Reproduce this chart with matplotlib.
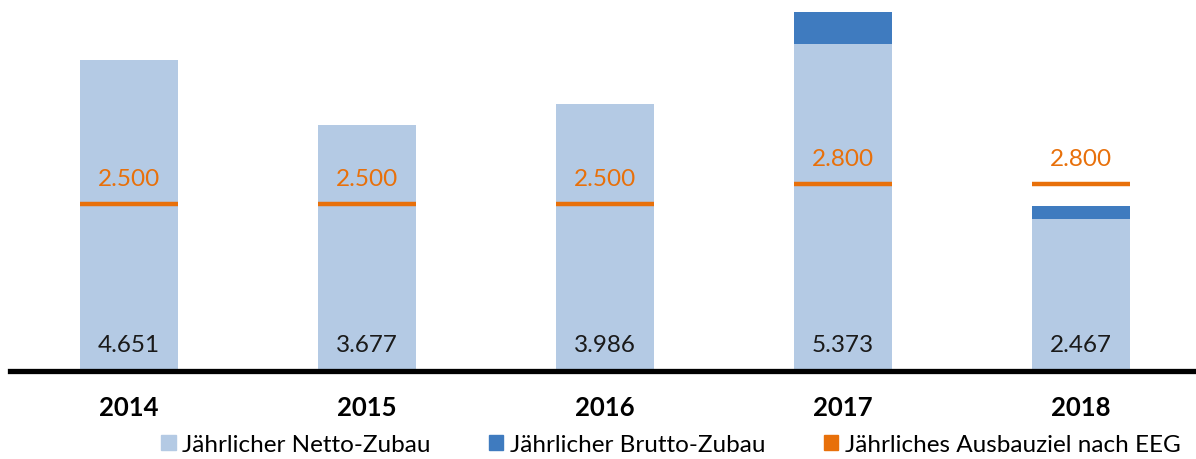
import matplotlib
matplotlib.use("Agg")
import matplotlib.pyplot as plt
from matplotlib.patches import Patch

years = ["2014", "2015", "2016", "2017", "2018"]
netto = [4651, 3677, 3986, 4890, 2273]
brutto = [4651, 3677, 3986, 5373, 2467]
ziel = [2500, 2500, 2500, 2800, 2800]
value_labels = ["4.651", "3.677", "3.986", "5.373", "2.467"]
ziel_labels = ["2.500", "2.500", "2.500", "2.800", "2.800"]

c_netto = "#B4CAE4"
c_brutto = "#3F7BBF"
c_ziel = "#E8700A"

plt.rcParams["font.family"] = ["Lato", "DejaVu Sans"]

W, H = 1196, 459
fig = plt.figure(figsize=(W / 100, H / 100), dpi=100)
zero_px = 371
ymax = 5500
scale = 0.06687
ax = fig.add_axes([10 / W, (H - zero_px) / H, 1190 / W, ymax * scale / H])

x = list(range(len(years)))
bw = 0.41
extra = [b - n for b, n in zip(brutto, netto)]
ax.bar(x, netto, width=bw, color=c_netto, zorder=2)
ax.bar(x, extra, bottom=netto, width=bw, color=c_brutto, zorder=2)
for i in x:
    ax.hlines(ziel[i], i - bw / 2, i + bw / 2, color=c_ziel, lw=3.2, zorder=3)
    ax.text(i, ziel[i] + 24 / scale, ziel_labels[i], ha="center", va="center",
            color=c_ziel, fontsize=17.5, zorder=4)
    ax.text(i, 25.5 / scale, value_labels[i], ha="center", va="center",
            color="#1a1a1a", fontsize=17.5, zorder=4)

ax.set_xlim(-0.5, 4.5)
ax.set_ylim(0, ymax)
ax.set_yticks([])
ax.set_xticks(x)
ax.set_xticklabels(years, fontsize=18.5, fontweight="bold")
ax.tick_params(axis="x", length=0, pad=18)
for s in ["top", "right", "left"]:
    ax.spines[s].set_visible(False)
ax.spines["bottom"].set_linewidth(3.8)
ax.spines["bottom"].set_color("black")
ax.spines["bottom"].set_zorder(5)

handles = [Patch(color=c_netto), Patch(color=c_brutto), Patch(color=c_ziel)]
labels = ["Jährlicher Netto-Zubau", "Jährlicher Brutto-Zubau", "Jährliches Ausbauziel nach EEG"]
fig.legend(handles, labels, loc="center", bbox_to_anchor=(671 / W, (H - 445) / H),
           ncol=3, frameon=False, fontsize=17.5, handlelength=0.58, handleheight=0.58,
           handletextpad=0.28, columnspacing=2.4, borderpad=0)

fig.savefig("out.png", dpi=100)
